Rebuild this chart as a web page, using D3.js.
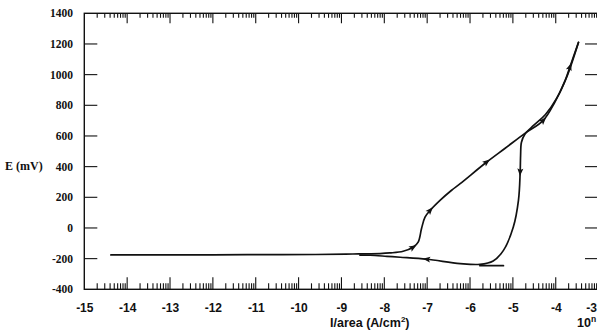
<!DOCTYPE html>
<html>
<head>
<meta charset="utf-8">
<script src="https://cdn.jsdelivr.net/npm/d3@7"></script>
<style>
  html, body { margin: 0; padding: 0; background: #fff; }
  svg { display: block; }
</style>
</head>
<body>
<svg id="chart" width="597" height="333"></svg>
<script>
// Polarization scan: log10 of current density vs potential E (mV)
const xTicks = [-15, -14, -13, -12, -11, -10, -9, -8, -7, -6, -5, -4, -3];
const yTicks = [-400, -200, 0, 200, 400, 600, 800, 1000, 1200, 1400];

// anodic (forward) sweep
const forwardLogI = [-14.38, -13.3, -12.0, -10.8, -9.6, -8.9, -8.6, -8.10, -7.87, -7.56, -7.33, -7.21, -7.13, -7.05, -6.93, -6.70, -6.43, -6.23, -5.61, -5.18, -4.72, -4.29, -4.02, -3.78, -3.67, -3.47];
const forwardE    = [-176, -175, -175, -174, -173, -171, -169, -167, -163, -152, -126, -92, -2, 71, 115, 180, 246, 289, 430, 520, 617, 702, 821, 963, 1050, 1210];

// reverse sweep
const reverseLogI = [-3.47, -3.75, -3.98, -4.24, -4.51, -4.72, -4.80, -4.82, -4.83, -4.87, -4.99, -5.22, -5.46, -5.77, -6.23, -7.01, -7.63, -7.94, -8.33, -8.57];
const reverseE    = [1210, 980, 845, 740, 670, 611, 559, 474, 365, 180, 6, -146, -215, -237, -232, -204, -191, -185, -178, -177];

// short segment near the minimum
const tailLogI = [-5.77, -5.22];
const tailE    = [-246, -246];

// vertices carrying a direction arrow
const forwardArrows = [10, 14, 18, 21, 24];
const reverseArrows = [8, 15];

const svg = d3.select("#chart");
const W = 597, H = 333;
const plotL = 84.3, plotR = 598.6, plotT = 13.3, plotB = 289.3;

const x = d3.scaleLinear().domain([-15, -3]).range([plotL, plotR]);
const y = d3.scaleLinear().domain([-400, 1400]).range([plotB, plotT]);

svg.append("rect").attr("width", W).attr("height", H).attr("fill", "#fff");

const ink = "#111";

// frame
svg.append("rect")
  .attr("x", plotL).attr("y", plotT)
  .attr("width", plotR - plotL).attr("height", plotB - plotT)
  .attr("fill", "none").attr("stroke", ink).attr("stroke-width", 1.4);

// log ticks on bottom and top edges
const minor = [];
for (let d = -15; d < -3; d++) {
  for (let m = 2; m <= 9; m++) minor.push(d + Math.log10(m));
}
const majors = xTicks.slice(1, -1);

const tg = svg.append("g").attr("stroke", ink).attr("stroke-width", 1.1);
tg.selectAll(".mb").data(minor).join("line")
  .attr("x1", d => x(d)).attr("x2", d => x(d))
  .attr("y1", plotB).attr("y2", plotB - 6);
tg.selectAll(".Mb").data(majors).join("line")
  .attr("x1", d => x(d)).attr("x2", d => x(d))
  .attr("y1", plotB).attr("y2", plotB - 12);
tg.selectAll(".mt").data(minor).join("line")
  .attr("x1", d => x(d)).attr("x2", d => x(d))
  .attr("y1", plotT).attr("y2", plotT + 4.5);
tg.selectAll(".Mt").data(majors).join("line")
  .attr("x1", d => x(d)).attr("x2", d => x(d))
  .attr("y1", plotT).attr("y2", plotT + 10);

// potential ticks on left and right edges
const yInner = yTicks.slice(1, -1);
tg.selectAll(".yl").data(yInner).join("line")
  .attr("x1", plotL).attr("x2", plotL + 13)
  .attr("y1", d => y(d)).attr("y2", d => y(d));
tg.selectAll(".yr").data(yInner).join("line")
  .attr("x1", 585).attr("x2", plotR)
  .attr("y1", d => y(d)).attr("y2", d => y(d));

// y tick labels
svg.append("g")
  .attr("font-family", "'Liberation Serif', 'DejaVu Serif', serif")
  .attr("font-weight", "bold").attr("font-size", 11.5).attr("fill", ink)
  .attr("text-anchor", "end")
  .selectAll("text").data(yTicks).join("text")
  .attr("x", 73).attr("y", d => y(d) + 4)
  .text(d => d);

// x tick labels
svg.append("g")
  .attr("font-family", "'Liberation Sans', Arial, sans-serif")
  .attr("font-weight", "bold").attr("font-size", 12).attr("fill", ink)
  .selectAll("text").data(xTicks).join("text")
  .attr("x", d => d === -3 ? 597 : x(d) + 0.5)
  .attr("text-anchor", d => d === -3 ? "end" : "middle")
  .attr("y", 312)
  .text(d => d);

// axis titles
svg.append("text")
  .attr("x", 5).attr("y", 170)
  .attr("font-family", "'Liberation Serif', 'DejaVu Serif', serif")
  .attr("font-weight", "bold").attr("font-size", 12).attr("fill", ink)
  .text("E (mV)");

const xt = svg.append("text")
  .attr("x", 330).attr("y", 326.5)
  .attr("font-family", "'Liberation Sans', Arial, sans-serif")
  .attr("font-weight", "bold").attr("font-size", 12.5).attr("fill", ink);
xt.append("tspan").text("I/area (A/cm");
xt.append("tspan").attr("font-size", 8).attr("dy", -4.5).text("2");
xt.append("tspan").attr("dy", 4.5).text(")");

const ten = svg.append("text")
  .attr("x", 577).attr("y", 326.5)
  .attr("font-family", "'Liberation Sans', Arial, sans-serif")
  .attr("font-weight", "bold").attr("font-size", 12.5).attr("fill", ink);
ten.append("tspan").text("10");
ten.append("tspan").attr("font-size", 8.5).attr("dy", -5).text("n");

// curves
const line = d3.line()
  .x(d => x(d[0])).y(d => y(d[1]))
  .curve(d3.curveCatmullRom.alpha(0.5));

const fwd = forwardLogI.map((v, i) => [v, forwardE[i]]);
const rev = reverseLogI.map((v, i) => [v, reverseE[i]]);
const tail = tailLogI.map((v, i) => [v, tailE[i]]);

const cg = svg.append("g")
  .attr("fill", "none").attr("stroke", ink)
  .attr("stroke-width", 1.7).attr("stroke-linejoin", "round").attr("stroke-linecap", "round");
cg.append("path").attr("d", line(fwd));
cg.append("path").attr("d", line(rev));
cg.append("path").attr("d", line(tail));

// direction arrows
function arrows(pts, idx) {
  return idx.map(i => {
    const a = pts[Math.max(0, i - 1)], b = pts[Math.min(pts.length - 1, i + 1)];
    const ang = Math.atan2(y(b[1]) - y(a[1]), x(b[0]) - x(a[0])) * 180 / Math.PI;
    return { px: x(pts[i][0]), py: y(pts[i][1]), ang };
  });
}
const heads = arrows(fwd, forwardArrows).concat(arrows(rev, reverseArrows));
svg.append("g").selectAll("path").data(heads).join("path")
  .attr("d", "M4,0 L-3.5,-3 L-2,0 L-3.5,3 Z")
  .attr("fill", ink)
  .attr("transform", d => `translate(${d.px},${d.py}) rotate(${d.ang})`);
</script>
</body>
</html>
